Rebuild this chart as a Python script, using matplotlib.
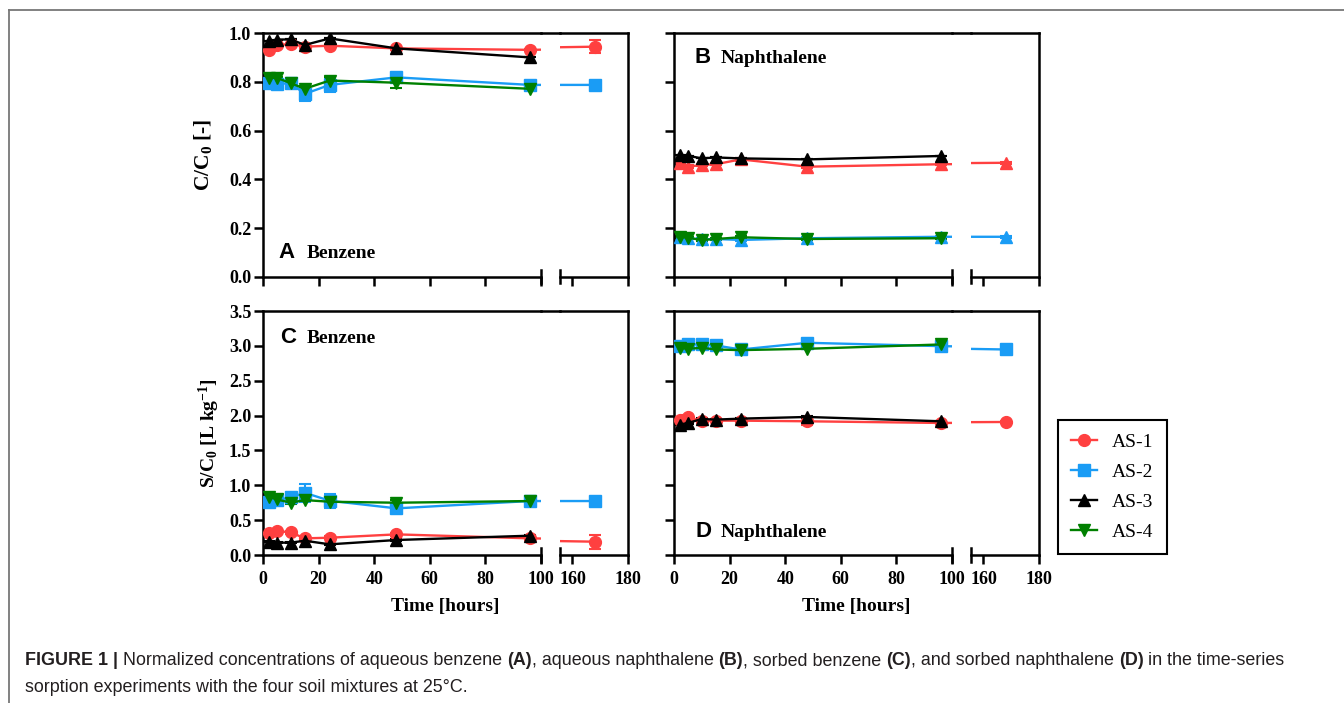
import matplotlib
matplotlib.use("Agg")
import matplotlib.pyplot as plt
from matplotlib.lines import Line2D
from matplotlib.ticker import FormatStrFormatter
import numpy as np

plt.rcParams["font.family"] = ["Liberation Serif", "DejaVu Serif"]
plt.rcParams["font.weight"] = "bold"
plt.rcParams["axes.labelweight"] = "bold"
plt.rcParams["mathtext.fontset"] = "custom"
plt.rcParams["mathtext.rm"] = "Liberation Serif:bold"
plt.rcParams["mathtext.it"] = "Liberation Serif:bold"
plt.rcParams["mathtext.bf"] = "Liberation Serif:bold"

# sampling times [hours]
time_long = [2, 5, 10, 15, 24, 48, 96, 168]
time_short = [2, 5, 10, 15, 24, 48, 96]

# (A) aqueous benzene, C/C0
a_as1 = [0.932, 0.952, 0.956, 0.945, 0.949, 0.938, 0.932, 0.945]
a_as1_err = [0.005, 0.005, 0.005, 0.005, 0.005, 0.005, 0.005, 0.026]
a_as2 = [0.797, 0.792, 0.795, 0.751, 0.788, 0.819, 0.788, 0.788]
a_as2_err = [0.005, 0.005, 0.005, 0.03, 0.03, 0.005, 0.005, 0.005]
a_as3 = [0.968, 0.974, 0.975, 0.952, 0.979, 0.938, 0.901]
a_as3_err = [0.0, 0.0, 0.0, 0.0, 0.0, 0.0, 0.0]
a_as4 = [0.817, 0.817, 0.795, 0.772, 0.806, 0.797, 0.772]
a_as4_err = [0.005, 0.005, 0.005, 0.01, 0.015, 0.02, 0.005]

# (B) aqueous naphthalene, C/C0
b_as1 = [0.466, 0.452, 0.459, 0.462, 0.482, 0.452, 0.462, 0.468]
b_as1_err = [0.005] * 8
b_as2 = [0.162, 0.158, 0.153, 0.155, 0.151, 0.158, 0.164, 0.164]
b_as2_err = [0.005] * 8
b_as3 = [0.500, 0.497, 0.486, 0.490, 0.486, 0.482, 0.496]
b_as3_err = [0.0] * 7
b_as4 = [0.164, 0.160, 0.151, 0.155, 0.162, 0.155, 0.158]
b_as4_err = [0.005] * 7

# (C) sorbed benzene, S/C0
c_as1 = [0.31, 0.344, 0.325, 0.239, 0.248, 0.296, 0.239, 0.191]
c_as1_err = [0.02, 0.02, 0.02, 0.02, 0.02, 0.02, 0.02, 0.10]
c_as2 = [0.764, 0.788, 0.826, 0.893, 0.778, 0.669, 0.774, 0.774]
c_as2_err = [0.02, 0.02, 0.03, 0.13, 0.10, 0.02, 0.02, 0.02]
c_as3 = [0.191, 0.177, 0.177, 0.205, 0.153, 0.215, 0.277]
c_as3_err = [0.01] * 7
c_as4 = [0.836, 0.797, 0.750, 0.788, 0.764, 0.750, 0.774]
c_as4_err = [0.03, 0.02, 0.02, 0.02, 0.02, 0.04, 0.02]

# (D) sorbed naphthalene, S/C0
d_as1 = [1.932, 1.98, 1.918, 1.927, 1.927, 1.918, 1.894, 1.908]
d_as1_err = [0.03, 0.03, 0.02, 0.02, 0.02, 0.06, 0.02, 0.02]
d_as2 = [2.996, 3.02, 3.02, 3.006, 2.948, 3.044, 2.996, 2.948]
d_as2_err = [0.03, 0.03, 0.03, 0.03, 0.03, 0.04, 0.03, 0.07]
d_as3 = [1.87, 1.894, 1.951, 1.942, 1.956, 1.98, 1.918]
d_as3_err = [0.01] * 7
d_as4 = [2.972, 2.958, 2.972, 2.948, 2.939, 2.958, 3.02]
d_as4_err = [0.01] * 7

labels = ["AS-1", "AS-2", "AS-3", "AS-4"]
colors = ["#FF4040", "#1A9CF5", "black", "#008000"]

W, H = 1344, 703
SEG_L, GAP, SEG_R = 278, 19, 68
LW = 1.8

fig = plt.figure(figsize=(W / 100, H / 100), dpi=100)


def box(x, top, w, bottom):
    return [x / W, 1 - bottom / H, w / W, (bottom - top) / H]


def draw_panel(x0, top, bottom, ylim, ystep, series, letter, name, lpos,
               bottom_row, left_col, ylabel=None, labelpad=6, ylabel_size=14):
    axl = fig.add_axes(box(x0, top, SEG_L, bottom))
    axr = fig.add_axes(box(x0 + SEG_L + GAP, top, SEG_R, bottom), sharey=axl)
    handles = []
    for ax in (axl, axr):
        for t, v, e, c, m, ms, lab in series:
            ax.errorbar(t, v, yerr=e, fmt="none", ecolor=c, elinewidth=1.5,
                        capsize=4, capthick=1.5, zorder=2)
            ln, = ax.plot(t, v, color=c, marker=m, ms=ms, mec=c, lw=1.7,
                          label=lab, zorder=3)
            if ax is axl:
                handles.append(ln)
    axl.set_xlim(0, 100)
    axr.set_xlim(155.5, 180)
    axl.set_ylim(*ylim)
    axl.set_xticks([0, 20, 40, 60, 80, 100])
    axr.set_xticks([160, 180])
    axl.set_yticks(np.arange(ylim[0], ylim[1] + 1e-9, ystep))
    axl.yaxis.set_major_formatter(FormatStrFormatter("%.1f"))
    axl.spines["right"].set_visible(False)
    axr.spines["left"].set_visible(False)
    for ax in (axl, axr):
        for s in ax.spines.values():
            s.set_linewidth(LW)
        ax.tick_params(direction="out", length=6.5, width=LW, labelsize=13,
                       pad=2, labelbottom=bottom_row)
        ax.tick_params(axis="x", pad=5)
    axr.tick_params(left=False, labelleft=False)
    axl.tick_params(labelleft=left_col)
    # break marks on the x axis
    for ax, xf in ((axl, 1), (axr, 0)):
        ax.plot([xf, xf], [-0.027, 0.027], transform=ax.transAxes, color="k",
                lw=LW, clip_on=False)
    # top frame across the gap
    fig.add_artist(Line2D([(x0 + SEG_L) / W, (x0 + SEG_L + GAP) / W],
                          [1 - top / H] * 2, lw=LW, color="k",
                          transform=fig.transFigure))
    axl.text(lpos[0], lpos[1], letter, transform=axl.transAxes,
             family="Liberation Sans", weight="bold", size=16, va="baseline")
    axl.text(lpos[2], lpos[1], name, transform=axl.transAxes, size=14,
             va="baseline")
    if ylabel:
        axl.set_ylabel(ylabel, size=ylabel_size, fontweight="bold",
                       labelpad=labelpad)
    if bottom_row:
        fig.text((x0 + (SEG_L + GAP + SEG_R) / 2) / W, 1 - 606 / H,
                 "Time [hours]", ha="center", va="center", size=14)
    return handles


handles = draw_panel(
    263, 33.3, 276.7, (0, 1.0), 0.2,
    [(time_long, a_as1, a_as1_err, colors[0], "o", 8.5, labels[0]),
     (time_long, a_as2, a_as2_err, colors[1], "s", 8, labels[1]),
     (time_short, a_as3, a_as3_err, colors[2], "^", 8.5, labels[2]),
     (time_short, a_as4, a_as4_err, colors[3], "v", 8.5, labels[3])],
    "A", "Benzene", (0.054, 0.077, 0.157), False, True, "C/C$_0$ [-]",
    labelpad=11, ylabel_size=15.5)

draw_panel(
    674, 33.3, 276.7, (0, 1.0), 0.2,
    [(time_long, b_as1, b_as1_err, colors[0], "^", 8.5, labels[0]),
     (time_long, b_as2, b_as2_err, colors[1], "^", 8.5, labels[1]),
     (time_short, b_as3, b_as3_err, colors[2], "^", 8.5, labels[2]),
     (time_short, b_as4, b_as4_err, colors[3], "v", 8.5, labels[3])],
    "B", "Naphthalene", (0.072, 0.877, 0.167), False, False)

draw_panel(
    263, 311, 555, (0, 3.5), 0.5,
    [(time_long, c_as1, c_as1_err, colors[0], "o", 8.5, labels[0]),
     (time_long, c_as2, c_as2_err, colors[1], "s", 8, labels[1]),
     (time_short, c_as3, c_as3_err, colors[2], "^", 8.5, labels[2]),
     (time_short, c_as4, c_as4_err, colors[3], "v", 8.5, labels[3])],
    "C", "Benzene", (0.061, 0.870, 0.157), True, True,
    "S/C$_0$ [L kg$^{-1}$]", labelpad=5)

draw_panel(
    674, 311, 555, (0, 3.5), 0.5,
    [(time_long, d_as1, d_as1_err, colors[0], "o", 8.5, labels[0]),
     (time_long, d_as2, d_as2_err, colors[1], "s", 8, labels[1]),
     (time_short, d_as3, d_as3_err, colors[2], "^", 8.5, labels[2]),
     (time_short, d_as4, d_as4_err, colors[3], "v", 8.5, labels[3])],
    "D", "Naphthalene", (0.076, 0.0725, 0.168), True, False)

leg = fig.legend(handles, labels, loc="upper left",
                 bbox_to_anchor=(1058 / W, 1 - 420 / H), fancybox=False,
                 edgecolor="k", framealpha=1,
                 prop={"family": "Liberation Serif", "weight": "normal",
                       "size": 14},
                 handlelength=1.35, borderpad=0.68, labelspacing=0.64,
                 handletextpad=0.75, borderaxespad=0)
leg.get_frame().set_linewidth(1.5)

# outer frame lines
fig.add_artist(Line2D([9 / W, 1], [1 - 10 / H] * 2, lw=1.3, color="#777777",
                      transform=fig.transFigure))
fig.add_artist(Line2D([9 / W, 9 / W], [0, 1 - 10 / H], lw=1.3,
                      color="#777777", transform=fig.transFigure))

# caption with mixed weights
renderer = fig.canvas.get_renderer()
cap_kw = dict(family="Liberation Sans", size=12.85, color="#231F20",
              va="baseline")


def width_of(s, weight):
    t = fig.text(0, 0, s, fontweight=weight, **cap_kw)
    w = t.get_window_extent(renderer).width
    t.remove()
    return w


space_w = width_of("x x", "normal") - width_of("xx", "normal")


def draw_runs(x_px, y_px, runs):
    for s, weight in runs:
        lead = len(s) - len(s.lstrip(" "))
        trail = len(s) - len(s.rstrip(" "))
        x_px += lead * space_w
        core = s.strip(" ")
        t = fig.text(x_px / W, 1 - y_px / H, core, fontweight=weight, **cap_kw)
        x_px += t.get_window_extent(renderer).width + trail * space_w


draw_runs(25, 665, [
    ("FIGURE 1 |", "bold"),
    (" Normalized concentrations of aqueous benzene ", "normal"),
    ("(A)", "bold"), (", aqueous naphthalene ", "normal"),
    ("(B)", "bold"), (", sorbed benzene ", "normal"),
    ("(C)", "bold"), (", and sorbed naphthalene ", "normal"),
    ("(D)", "bold"), (" in the time-series", "normal")])
draw_runs(25, 692, [
    ("sorption experiments with the four soil mixtures at 25°C.", "normal")])

fig.savefig("out.png", dpi=100)
